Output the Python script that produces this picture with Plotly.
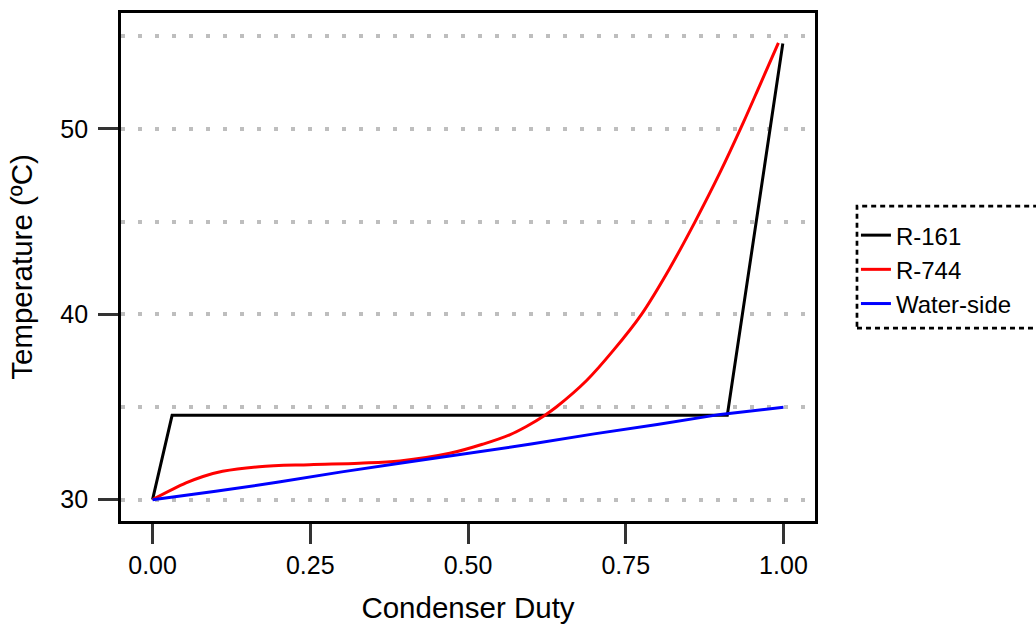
import plotly.graph_objects as go

# ---- data ----
r161_x = [0.0, 0.031, 0.911, 0.999]
r161_y = [30.0, 34.55, 34.55, 54.6]

r744_x = [0.0, 0.053, 0.08, 0.111, 0.169, 0.249, 0.328, 0.392, 0.471, 0.524, 0.566,
          0.5925, 0.622, 0.640, 0.688, 0.730, 0.775, 0.820, 0.860,
          0.8995, 0.9365, 0.963, 0.992]
r744_y = [30.0, 30.9, 31.25, 31.53, 31.78, 31.89, 31.97, 32.09, 32.5, 33.0, 33.5,
          33.95, 34.56, 35.0, 36.43, 38.04, 40.0, 42.5, 45.0,
          47.65, 50.35, 52.39, 54.64]

water_x = [0.0, 0.1, 0.2, 0.3, 0.4, 0.5, 0.6, 0.7, 0.8, 0.9, 1.0]
water_y = [30.0, 30.45, 30.95, 31.5, 32.0, 32.5, 33.0, 33.55, 34.05, 34.6, 34.98]

series_names = ["R-161", "R-744", "Water-side"]
series_colors = ["#000000", "#ff0000", "#0000ff"]
series_shapes = ["linear", "spline", "linear"]

x_ticks = [0.0, 0.25, 0.5, 0.75, 1.0]
x_ticklabels = ["0.00", "0.25", "0.50", "0.75", "1.00"]
y_ticks = [30, 40, 50]

FONT = "Liberation Sans, Arial, sans-serif"

fig = go.Figure()
for name, xs, ys, col, shp in zip(series_names,
                                  [r161_x, r744_x, water_x],
                                  [r161_y, r744_y, water_y],
                                  series_colors, series_shapes):
    fig.add_trace(go.Scatter(x=xs, y=ys, mode="lines", name=name,
                             line=dict(color=col, width=3, shape=shp,
                                       smoothing=1.0 if shp == "spline" else None)))

grid_style = dict(gridcolor="#bebebe", gridwidth=3.5, griddash="4px,13px")

fig.update_layout(
    width=1036, height=630,
    margin=dict(l=121, r=221, t=10, b=109),
    paper_bgcolor="white", plot_bgcolor="white",
    font=dict(family=FONT, color="#000000", size=25),
    showlegend=True,
    legend=dict(x=1.059, xanchor="left", y=0.495, yanchor="middle",
                bgcolor="rgba(0,0,0,0)", borderwidth=0,
                font=dict(size=24, family=FONT), itemwidth=30,
                tracegroupgap=0),
    xaxis=dict(
        range=[-0.05, 1.05], tickvals=x_ticks, ticktext=x_ticklabels,
        showgrid=False, zeroline=False,
        showline=True, mirror=True, linecolor="black", linewidth=2.7,
        ticks="outside", ticklen=20, tickwidth=2.7, tickcolor="#333333",
        tickfont=dict(size=25, family=FONT, color="#000000"),
        title=dict(text="Condenser Duty", font=dict(size=29.5, family=FONT), standoff=20),
    ),
    yaxis=dict(
        range=[28.85, 56.25], tickvals=y_ticks,
        showgrid=True, **grid_style, zeroline=False,
        minor=dict(tick0=30, dtick=5, showgrid=True, ticks="", **grid_style),
        showline=True, mirror=True, linecolor="black", linewidth=2.7,
        ticks="outside", ticklen=20, tickwidth=2.7, tickcolor="#333333",
        ticklabelstandoff=5,
        tickfont=dict(size=25, family=FONT, color="#000000"),
        title=dict(text="Temperature (ºC)", font=dict(size=29.5, family=FONT), standoff=20),
    ),
)

# dashed legend frame
fig.add_shape(type="rect", xref="paper", yref="paper",
              x0=1.0605, x1=1.33, y0=0.3796, y1=0.620,
              line=dict(color="black", width=2.7, dash="5px,4px"),
              fillcolor="rgba(0,0,0,0)", layer="above")

fig.write_html("out.html", config={"displayModeBar": False},
               post_script="document.body.style.margin='0px';")
